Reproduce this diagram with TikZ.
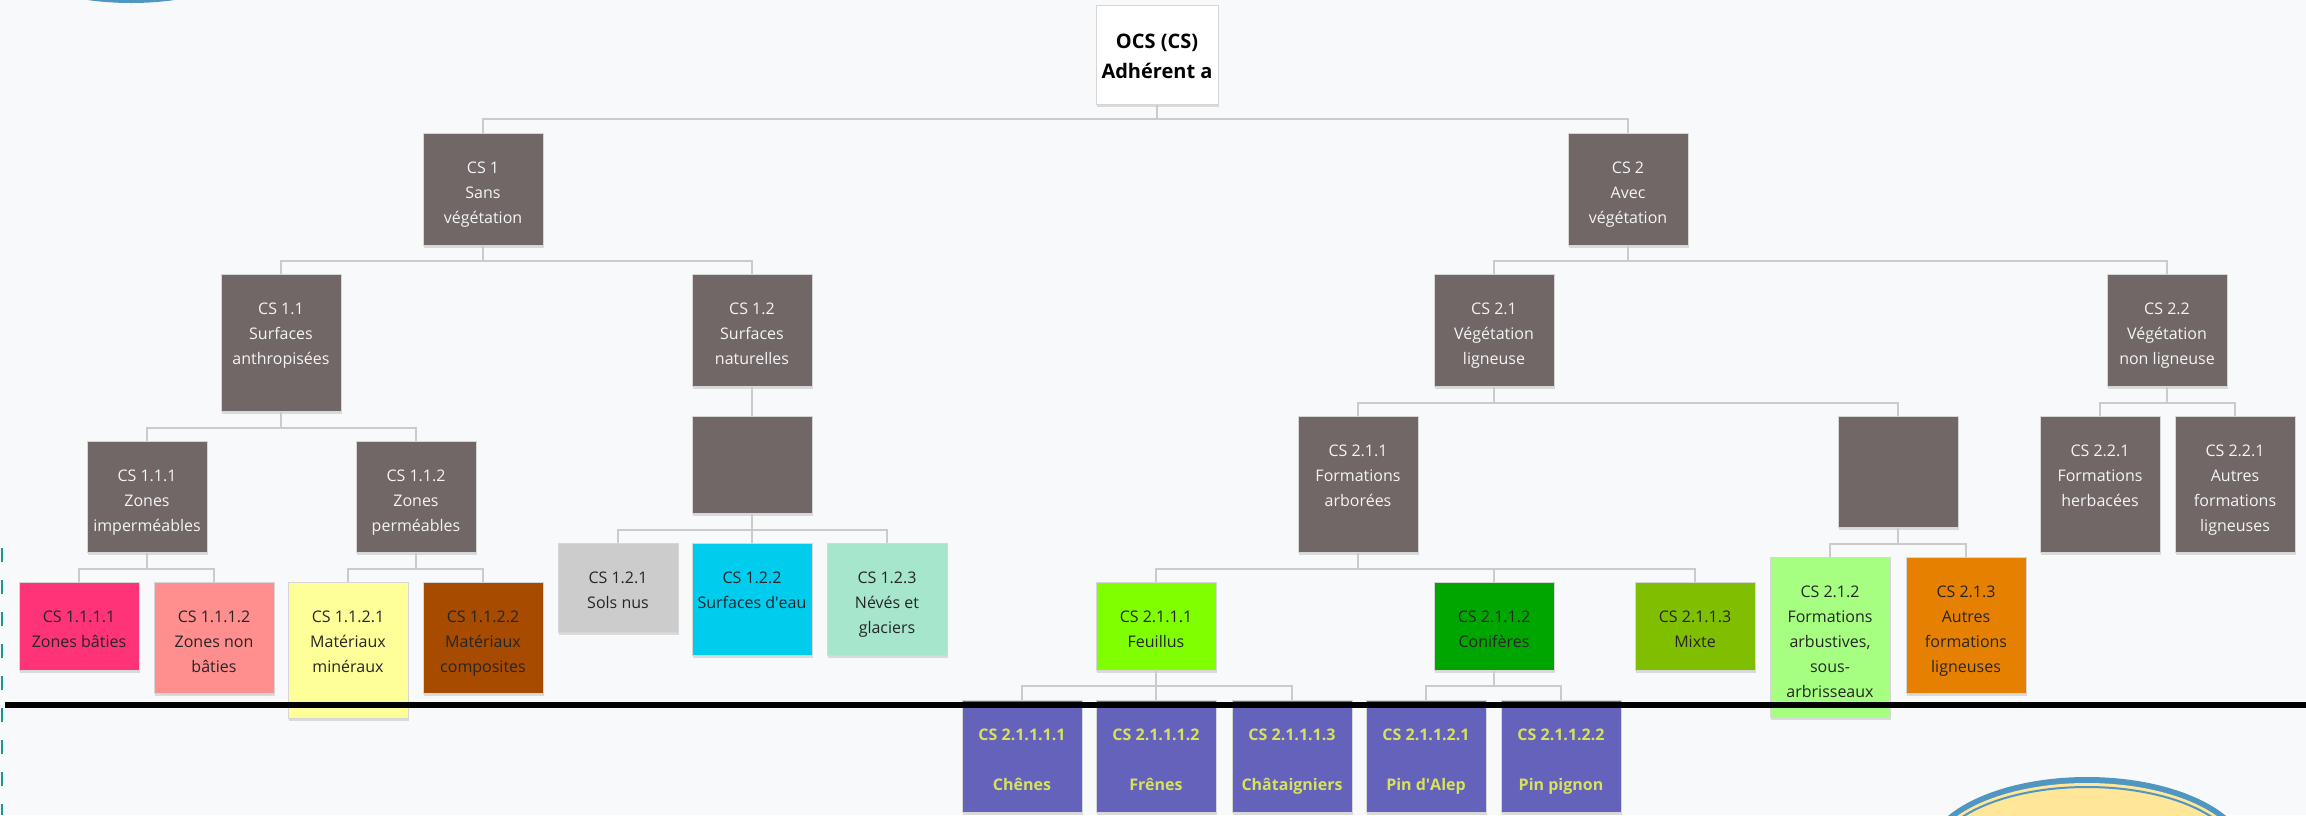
\documentclass[tikz,border=0pt]{standalone}
\usepackage{fontspec}
\setmainfont{Open Sans}
\usepackage{xcolor}
\usepackage{tikz}
\usetikzlibrary{shadows}

\definecolor{pagebg}{HTML}{F8F9FB}
\definecolor{taupe}{HTML}{706766}
\definecolor{edgegray}{HTML}{D6D6D6}
\definecolor{linkgray}{HTML}{CBCBCB}
\definecolor{lighttxt}{HTML}{F4F4F4}
\definecolor{darktxt}{HTML}{262626}
\definecolor{bati}{HTML}{FF3377}
\definecolor{nonbati}{HTML}{FF8E8E}
\definecolor{mineral}{HTML}{FFFF99}
\definecolor{composite}{HTML}{A64B00}
\definecolor{solnu}{HTML}{CCCCCC}
\definecolor{eau}{HTML}{00CCEE}
\definecolor{glacier}{HTML}{A6E6CC}
\definecolor{feuillu}{HTML}{80FF00}
\definecolor{conifere}{HTML}{00A600}
\definecolor{mixte}{HTML}{80BF00}
\definecolor{arbuste}{HTML}{A6FF80}
\definecolor{ligneux}{HTML}{E68000}
\definecolor{essence}{HTML}{6562BC}
\definecolor{essencetxt}{HTML}{D6E35A}
\definecolor{ringblue}{HTML}{4F96C2}
\definecolor{ringfill}{HTML}{FFE699}
\definecolor{dashteal}{HTML}{12999C}

% box text: height, lines (top aligned)
\newcommand{\boxtext}[2]{\parbox[t][#1pt][t]{120pt}{\centering\vspace*{22pt}\strut #2}}

\begin{document}
\begin{tikzpicture}[x=1pt,y=-1pt,
  cell/.style={rectangle,inner sep=0pt,anchor=north,draw=edgegray,line width=1pt,
    font=\fontsize{16}{25}\selectfont,
    drop shadow={shadow xshift=1pt,shadow yshift=-2pt,opacity=0.12,fill=black}},
  greycell/.style={cell,fill=taupe,text=lighttxt},
  colcell/.style={cell,fill=#1,text=darktxt},
  leafcell/.style={cell,fill=essence,text=essencetxt,font=\fontsize{16}{25}\selectfont\bfseries},
  link/.style={linkgray,line width=2pt}]
\useasboundingbox (0,0) rectangle (2306,815);
\clip (0,0) rectangle (2306,815);
\fill[pagebg] (0,0) rectangle (2306,815);

% Decorations at the edges
\fill[ringblue] (131,-77) ellipse (160 and 80);
\fill[ringfill] (131,-77) ellipse (154 and 74);
\fill[ringblue] (2087,857) ellipse (162 and 80);
\fill[ringfill] (2087,857) ellipse (156 and 74);
\draw[ringblue,line width=2pt] (2087,857) ellipse (152 and 70);
\draw[dashteal,line width=2.5pt,dash pattern=on 14pt off 18pt] (2,548) -- (2,815);

% Root
\node[cell,fill=white,text=black,font=\fontsize{20}{30}\selectfont\bfseries] (root) at (1157,5)
  {\parbox[t][99pt][t]{122pt}{\centering\vspace*{22pt}\strut OCS (CS)\\Adhérent a}};

% Level 1
\node[greycell] (cs1) at (483,133) {\boxtext{112}{CS 1\\Sans\\végétation}};
\node[greycell] (cs2) at (1628,133) {\boxtext{112}{CS 2\\Avec\\végétation}};

% Level 2
\node[greycell] (cs11) at (281,274) {\boxtext{137}{CS 1.1\\Surfaces\\anthropisées}};
\node[greycell] (cs12) at (752,274) {\boxtext{112}{CS 1.2\\Surfaces\\naturelles}};
\node[greycell] (cs21) at (1494,274) {\boxtext{112}{CS 2.1\\Végétation\\ligneuse}};
\node[greycell] (cs22) at (2167,274) {\boxtext{112}{CS 2.2\\Végétation\\non ligneuse}};

% Level 3
\node[greycell] (cs111) at (147,441) {\boxtext{111}{CS 1.1.1\\Zones\\imperméables}};
\node[greycell] (cs112) at (416,441) {\boxtext{111}{CS 1.1.2\\Zones\\perméables}};
\node[greycell] (cs12a) at (752,416) {\boxtext{97}{}};
\node[greycell] (cs211) at (1358,416) {\boxtext{136}{CS 2.1.1\\Formations\\arborées}};
\node[greycell] (cs21b) at (1898,416) {\boxtext{111}{}};
\node[greycell] (cs221) at (2100,416) {\boxtext{136}{CS 2.2.1\\Formations\\herbacées}};
\node[greycell] (cs221b) at (2235,416) {\boxtext{136}{CS 2.2.1\\Autres\\formations\\ligneuses}};

% Level 4
\node[colcell=bati] (cs1111) at (79,582) {\boxtext{88}{CS 1.1.1.1\\Zones bâties}};
\node[colcell=nonbati] (cs1112) at (214,582) {\boxtext{111}{CS 1.1.1.2\\Zones non\\bâties}};
\node[colcell=mineral] (cs1121) at (348,582) {\boxtext{136}{CS 1.1.2.1\\Matériaux\\minéraux}};
\node[colcell=composite] (cs1122) at (483,582) {\boxtext{111}{CS 1.1.2.2\\Matériaux\\composites}};
\node[colcell=solnu] (cs121) at (618,543) {\boxtext{89}{CS 1.2.1\\Sols nus}};
\node[colcell=eau] (cs122) at (752,543) {\boxtext{112}{CS 1.2.2\\Surfaces d\textquotesingle eau}};
\node[colcell=glacier] (cs123) at (887,543) {\boxtext{112}{CS 1.2.3\\Névés et\\glaciers}};
\node[colcell=feuillu] (cs2111) at (1156,582) {\boxtext{88}{CS 2.1.1.1\\Feuillus}};
\node[colcell=conifere] (cs2112) at (1494,582) {\boxtext{88}{CS 2.1.1.2\\Conifères}};
\node[colcell=mixte] (cs2113) at (1695,582) {\boxtext{88}{CS 2.1.1.3\\Mixte}};
\node[colcell=arbuste] (cs212) at (1830,557) {\boxtext{160}{CS 2.1.2\\Formations\\arbustives,\\sous-\\arbrisseaux}};
\node[colcell=ligneux] (cs213) at (1966,557) {\boxtext{136}{CS 2.1.3\\Autres\\formations\\ligneuses}};

% Level 5
\node[leafcell] (cs21111) at (1022,700) {\boxtext{112}{CS 2.1.1.1.1\\[25pt]Chênes}};
\node[leafcell] (cs21112) at (1156,700) {\boxtext{112}{CS 2.1.1.1.2\\[25pt]Frênes}};
\node[leafcell] (cs21113) at (1292,700) {\boxtext{112}{CS 2.1.1.1.3\\[25pt]Châtaigniers}};
\node[leafcell] (cs21121) at (1426,700) {\boxtext{112}{CS 2.1.1.2.1\\[25pt]Pin d\textquotesingle Alep}};
\node[leafcell] (cs21122) at (1561,700) {\boxtext{112}{CS 2.1.1.2.2\\[25pt]Pin pignon}};

% Links
\foreach \c in {cs1,cs2} \draw[link] (root.south) -- ++(0,14) -| (\c.north);
\foreach \c in {cs11,cs12} \draw[link] (cs1.south) -- ++(0,15) -| (\c.north);
\foreach \c in {cs21,cs22} \draw[link] (cs2.south) -- ++(0,15) -| (\c.north);
\draw[link] (cs12.south) -- (cs12a.north);
\foreach \c in {cs111,cs112} \draw[link] (cs11.south) -- ++(0,16) -| (\c.north);
\foreach \c in {cs1111,cs1112} \draw[link] (cs111.south) -- ++(0,16) -| (\c.north);
\foreach \c in {cs1121,cs1122} \draw[link] (cs112.south) -- ++(0,16) -| (\c.north);
\foreach \c in {cs121,cs122,cs123} \draw[link] (cs12a.south) -- ++(0,16) -| (\c.north);
\foreach \c in {cs211,cs21b} \draw[link] (cs21.south) -- ++(0,16) -| (\c.north);
\foreach \c in {cs221,cs221b} \draw[link] (cs22.south) -- ++(0,16) -| (\c.north);
\foreach \c in {cs2111,cs2112,cs2113} \draw[link] (cs211.south) -- ++(0,16) -| (\c.north);
\foreach \c in {cs212,cs213} \draw[link] (cs21b.south) -- ++(0,16) -| (\c.north);
\foreach \c in {cs21111,cs21112,cs21113} \draw[link] (cs2111.south) -- ++(0,15) -| (\c.north);
\foreach \c in {cs21121,cs21122} \draw[link] (cs2112.south) -- ++(0,15) -| (\c.north);

% Separation line
\draw[line width=6pt] (5,705) -- (2306,705);
\end{tikzpicture}
\end{document}
